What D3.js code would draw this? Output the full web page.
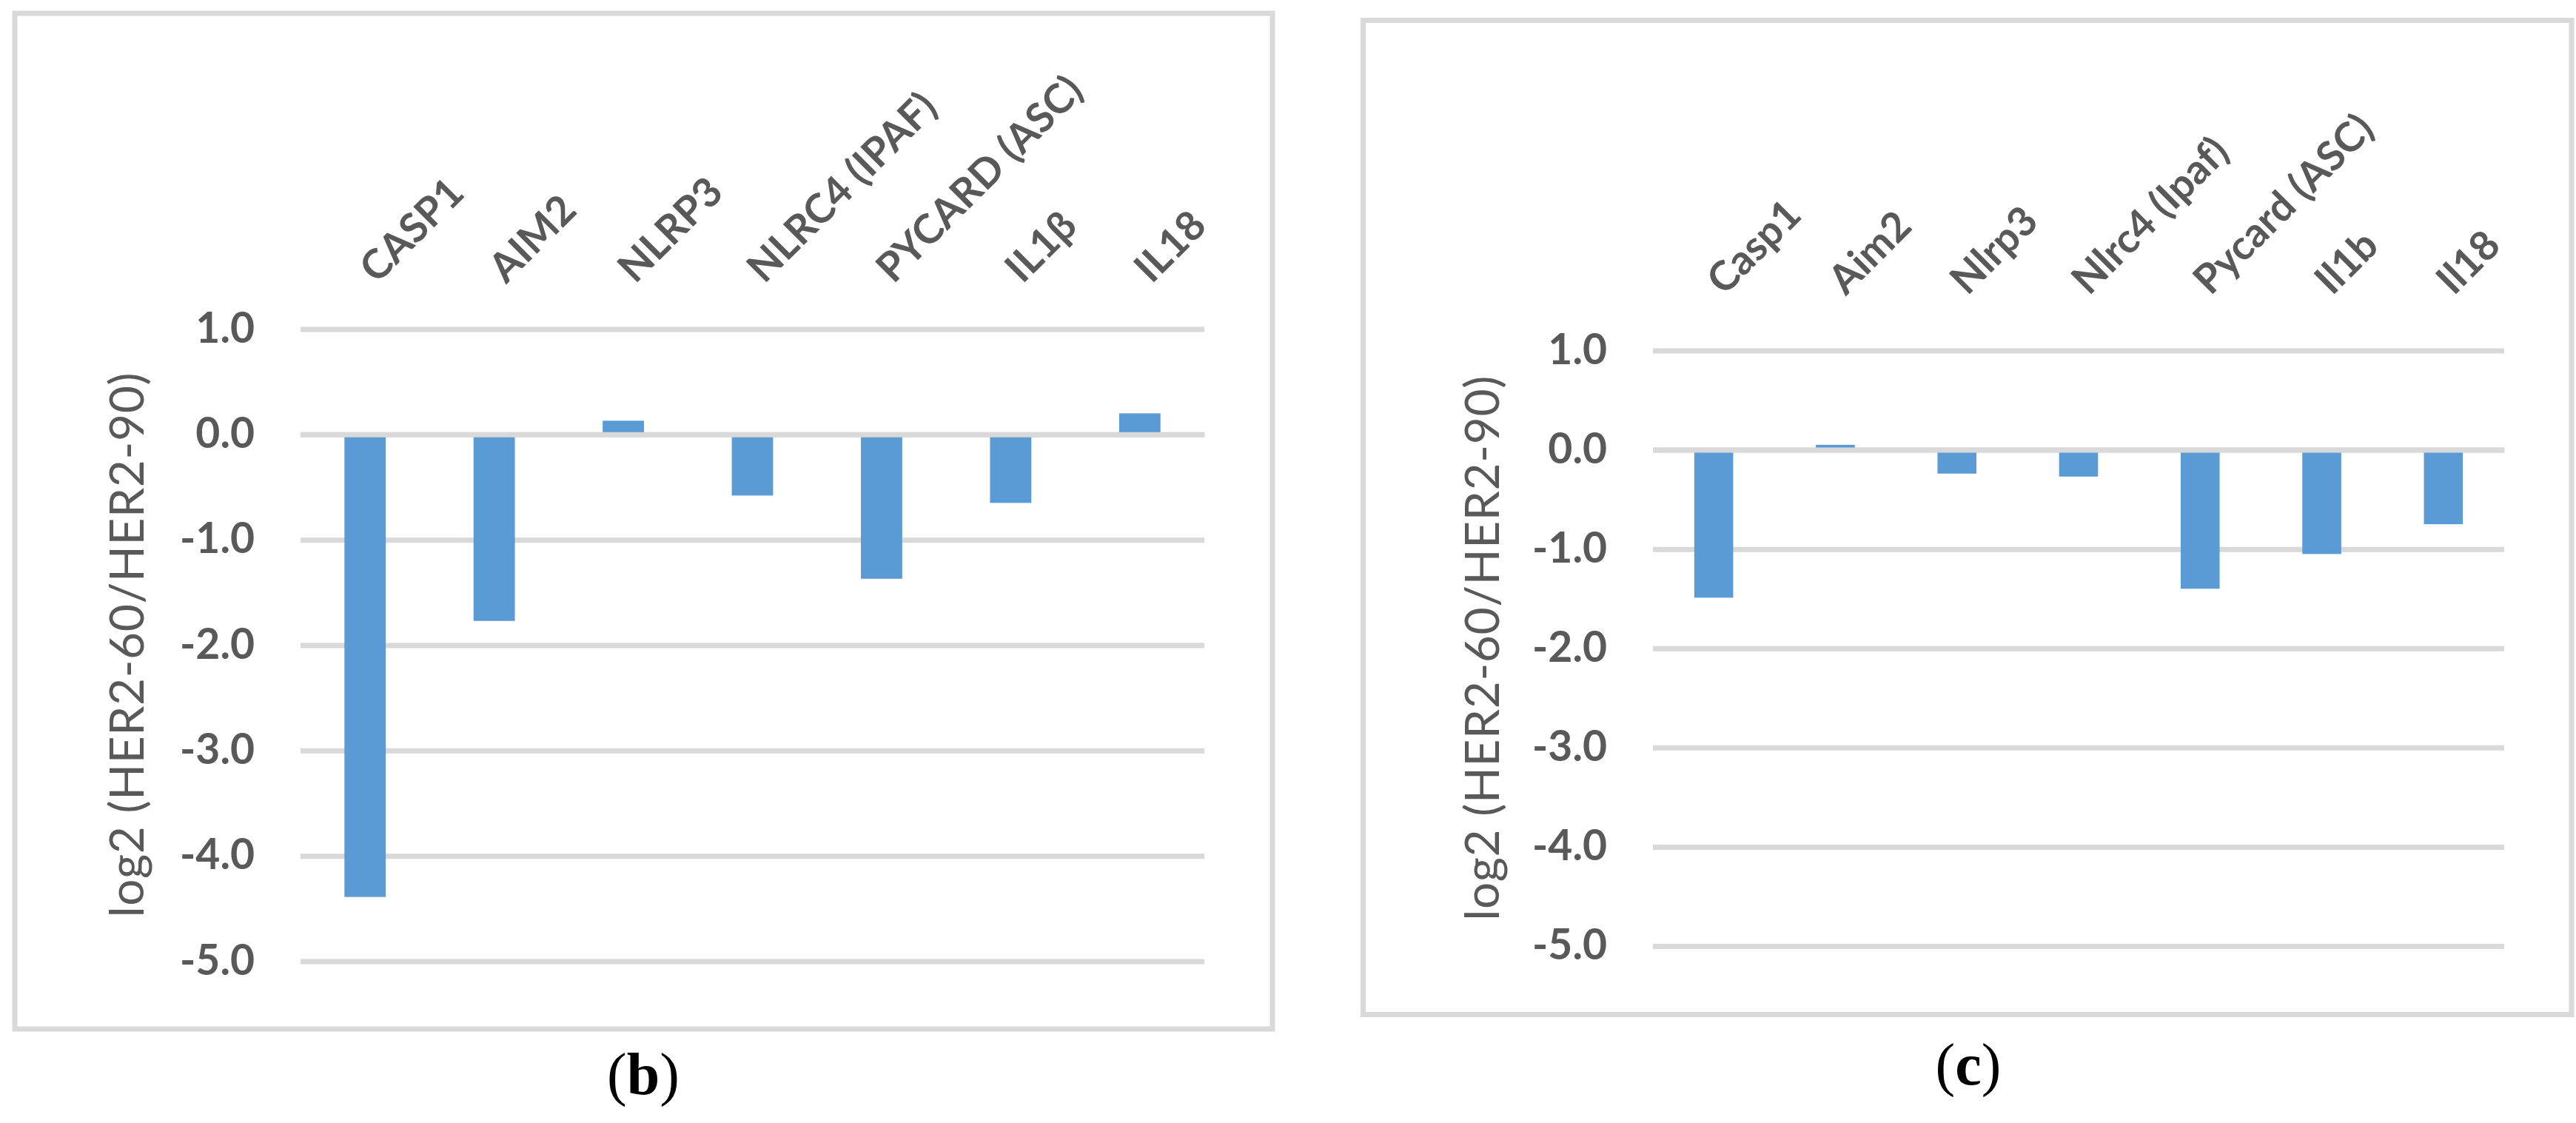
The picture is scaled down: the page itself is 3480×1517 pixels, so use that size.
<!DOCTYPE html>
<html>
<head>
<meta charset="utf-8">
<script src="https://cdn.jsdelivr.net/npm/d3@7"></script>
<style>
  html, body { margin: 0; padding: 0; background: #fff; }
  svg { display: block; }
</style>
</head>
<body>
<svg id="fig" width="3480" height="1517"></svg>
<script>
// values
const categoriesB = ["CASP1", "AIM2", "NLRP3", "NLRC4 (IPAF)", "PYCARD (ASC)", "IL1β", "IL18"];
const valuesB = [-4.39, -1.77, 0.13, -0.58, -1.37, -0.65, 0.20];

const categoriesC = ["Casp1", "Aim2", "Nlrp3", "Nlrc4 (Ipaf)", "Pycard (ASC)", "Il1b", "Il18"];
const valuesC = [-1.49, 0.05, -0.24, -0.27, -1.40, -1.05, -0.75];

const yTicks = [1, 0, -1, -2, -3, -4, -5];
const yTitle = "log2 (HER2-60/HER2-90)";
const captions = ["b", "c"];

const GRID = "#d9d9d9";
const TEXT = "#595959";
const BAR = "#5b9bd5";
const SANS = "Lato, 'Open Sans', sans-serif";

const svg = d3.select("#fig");

// layout of each panel (pixels)
const panels = [
  { frame: [20, 18, 1719, 1390], left: 406, right: 1627, top: 444.5, bottom: 1298.5,
    labDx: 16, labDy: 60, titleX: 194, captionX: 869, captionY: 1478,
    cats: categoriesB, vals: valuesB, caption: captions[0] },
  { frame: [1841.5, 27.5, 3474, 1370.5], left: 2233, right: 3383, top: 473.5, bottom: 1278,
    labDx: 14, labDy: 73, titleX: 2025, captionX: 2659, captionY: 1465,
    cats: categoriesC, vals: valuesC, caption: captions[1] }
];

const drawPanel = (p) => {
  const g = svg.append("g");

  // outer chart frame
  const [fx0, fy0, fx1, fy1] = p.frame;
  g.append("rect")
    .attr("x", fx0).attr("y", fy0)
    .attr("width", fx1 - fx0).attr("height", fy1 - fy0)
    .attr("fill", "#fff")
    .attr("stroke", GRID)
    .attr("stroke-width", 7);

  const x = d3.scaleBand()
    .domain(p.cats)
    .range([p.left, p.right])
    .paddingInner(0.68)
    .paddingOuter(0.34);

  const y = d3.scaleLinear()
    .domain([-5, 1])
    .range([p.bottom, p.top]);

  // gridlines + tick labels
  const yAxis = g.append("g")
    .attr("transform", `translate(${p.left},0)`)
    .call(d3.axisLeft(y)
      .tickValues(yTicks)
      .tickSize(-(p.right - p.left))
      .tickPadding(62)
      .tickFormat(v => v.toFixed(1)));
  yAxis.select(".domain").remove();
  yAxis.selectAll(".tick line")
    .attr("stroke", GRID)
    .attr("stroke-width", 7);
  yAxis.selectAll(".tick text")
    .attr("fill", TEXT)
    .attr("font-family", SANS)
    .attr("font-weight", "bold")
    .attr("font-size", 57)
    .attr("dy", "0.31em");

  // bars
  g.append("g")
    .selectAll("rect")
    .data(p.cats.map((c, i) => ({ c, v: p.vals[i] })))
    .join("rect")
    .attr("x", d => x(d.c))
    .attr("width", x.bandwidth())
    .attr("y", d => y(Math.max(0, d.v)))
    .attr("height", d => Math.abs(y(d.v) - y(0)))
    .attr("fill", BAR);

  // horizontal axis line at zero sits on top of the bars
  const zeroAxis = g.append("g")
    .attr("transform", `translate(0,${y(0)})`)
    .call(d3.axisBottom(x).tickSize(0).tickFormat(""));
  zeroAxis.select(".domain")
    .attr("stroke", GRID)
    .attr("stroke-width", 7);

  // category labels above the plot, rotated 45 degrees
  const catAxis = g.append("g")
    .attr("transform", `translate(0,${p.top - p.labDy})`)
    .call(d3.axisTop(x).tickSize(0).tickPadding(0));
  catAxis.select(".domain").remove();
  catAxis.selectAll(".tick text")
    .attr("x", 0).attr("y", 0).attr("dy", 0)
    .attr("text-anchor", "start")
    .attr("transform", `translate(${p.labDx},0) rotate(-45)`)
    .attr("fill", TEXT)
    .attr("font-family", SANS)
    .attr("font-weight", "bold")
    .attr("font-size", 55);

  // y axis title
  const midY = (p.top + p.bottom) / 2;
  g.append("text")
    .attr("transform", `translate(${p.titleX},${midY}) rotate(-90)`)
    .attr("text-anchor", "middle")
    .attr("fill", TEXT)
    .attr("font-family", SANS)
    .attr("font-size", 64)
    .attr("textLength", 736)
    .attr("lengthAdjust", "spacing")
    .text(yTitle);

  // panel caption
  const cap = g.append("text")
    .attr("x", p.captionX)
    .attr("y", p.captionY)
    .attr("text-anchor", "middle")
    .attr("font-family", "'Liberation Serif', 'DejaVu Serif', serif")
    .attr("font-size", 80)
    .attr("fill", "#000");
  cap.append("tspan").text("(");
  cap.append("tspan").attr("font-weight", "bold").text(p.caption);
  cap.append("tspan").text(")");
};

panels.forEach(drawPanel);
</script>
</body>
</html>
